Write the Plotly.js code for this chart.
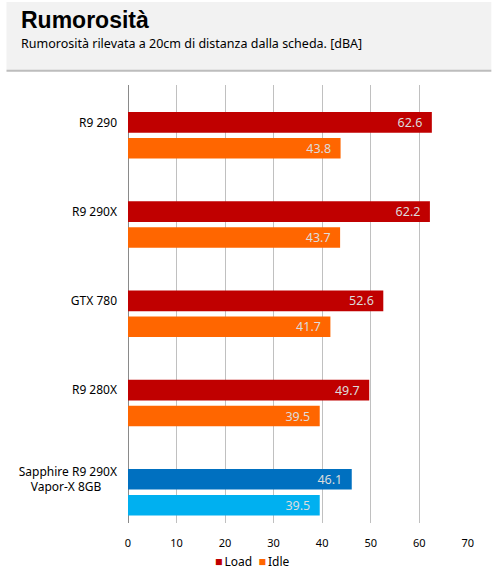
<!DOCTYPE html>
<html>
<head>
<meta charset="utf-8">
<script src="https://cdn.plot.ly/plotly-3.0.1.min.js"></script>
<style>
  html, body { margin: 0; padding: 0; background: #ffffff; }
  #chart { width: 494px; height: 583px; }
</style>
</head>
<body>
<div id="chart"></div>
<script>
// ---- data ----
const categories = ["R9 290", "R9 290X", "GTX 780", "R9 280X", "Sapphire R9 290X<br>Vapor-X 8GB\u00a0\u00a0\u00a0\u00a0\u00a0"];
const seriesNames = ["Load", "Idle"];
const loadValues = [62.6, 62.2, 52.6, 49.7, 46.1];
const idleValues = [43.8, 43.7, 41.7, 39.5, 39.5];
const loadColors = ["#C00000", "#C00000", "#C00000", "#C00000", "#0070C0"];
const idleColors = ["#FF6600", "#FF6600", "#FF6600", "#FF6600", "#00B0F0"];
const xTicks = [0, 10, 20, 30, 40, 50, 60, 70];

const W = 494, H = 583;
const L = 128.3, R = 467.7, T = 85, B = 523;
const px2x = p => (p - L) / (R - L);
const py2y = p => (B - p) / (B - T);

const barW = 0.232;
const textFont = { family: "Noto Sans", size: 12.5, color: "#dcdcdc" };

const traces = [
  {
    type: "bar", orientation: "h", name: seriesNames[0],
    y: categories, x: loadValues,
    marker: { color: loadColors },
    width: barW, offset: -barW / 2,
    texttemplate: "%{x:.1f}\u00a0\u00a0", textposition: "inside", insidetextanchor: "end",
    textfont: textFont, constraintext: "none", hoverinfo: "skip", showlegend: false
  },
  {
    type: "bar", orientation: "h", name: seriesNames[1],
    y: categories, x: idleValues,
    marker: { color: idleColors },
    width: barW, offset: 0.291 - barW / 2,
    texttemplate: "%{x:.1f}\u00a0\u00a0", textposition: "inside", insidetextanchor: "end",
    textfont: textFont, constraintext: "none", hoverinfo: "skip", showlegend: false
  }
];

const sq = c => '<span style="color:' + c + ';font-size:12.5px">\u25A0</span>';
const legendText = sq(loadColors[0]) + "\u2009" + seriesNames[0] + "\u00a0\u00a0" + sq(idleColors[0]) + "\u2009" + seriesNames[1];

const layout = {
  width: W, height: H,
  margin: { l: L, r: W - R, t: T, b: H - B, pad: 0 },
  paper_bgcolor: "#ffffff", plot_bgcolor: "#ffffff",
  barmode: "overlay",
  showlegend: false,
  xaxis: {
    range: [0, 70.05], tickvals: xTicks, ticktext: xTicks.map(String),
    showgrid: true, gridcolor: "#c0c0c0", gridwidth: 1,
    zeroline: true, zerolinecolor: "#8a8a8a", zerolinewidth: 1,
    showline: false, ticks: "",
    ticklabelstandoff: 12,
    tickfont: { family: "Noto Sans", size: 11, color: "#000000" },
    fixedrange: true
  },
  yaxis: {
    type: "category", categoryorder: "array", categoryarray: categories,
    range: [4.49, -0.418],
    showgrid: false, zeroline: false, showline: false, ticks: "",
    ticklabelstandoff: 10,
    tickfont: { family: "Noto Sans", size: 12, color: "#000000" },
    fixedrange: true
  },
  shapes: [
    { type: "rect", xref: "paper", yref: "paper", layer: "below",
      x0: px2x(7), x1: px2x(491), y0: py2y(70), y1: py2y(2),
      fillcolor: "#f2f2f2", line: { width: 0 } },
    { type: "line", xref: "paper", yref: "paper",
      x0: px2x(7), x1: px2x(491), y0: py2y(70.7), y1: py2y(70.7),
      line: { color: "#bdbdbd", width: 2 } }
  ],
  annotations: [
    { text: "Rumorosità", xref: "paper", yref: "paper", x: px2x(19), y: py2y(20.5),
      xanchor: "left", yanchor: "middle", showarrow: false,
      font: { family: "Liberation Sans", size: 23, color: "#000000", weight: "bold" } },
    { text: "Rumorosità rilevata a 20cm di distanza dalla scheda. [dBA]", xref: "paper", yref: "paper",
      x: px2x(19), y: py2y(44), xanchor: "left", yanchor: "middle", showarrow: false,
      font: { family: "Noto Sans", size: 12.5, color: "#000000" } },
    { text: legendText, xref: "paper", yref: "paper",
      x: px2x(253), y: py2y(561), xanchor: "center", yanchor: "middle", showarrow: false,
      font: { family: "Noto Sans", size: 12, color: "#000000" } }
  ]
};

Plotly.newPlot("chart", traces, layout, { staticPlot: true, displayModeBar: false });
</script>
</body>
</html>
